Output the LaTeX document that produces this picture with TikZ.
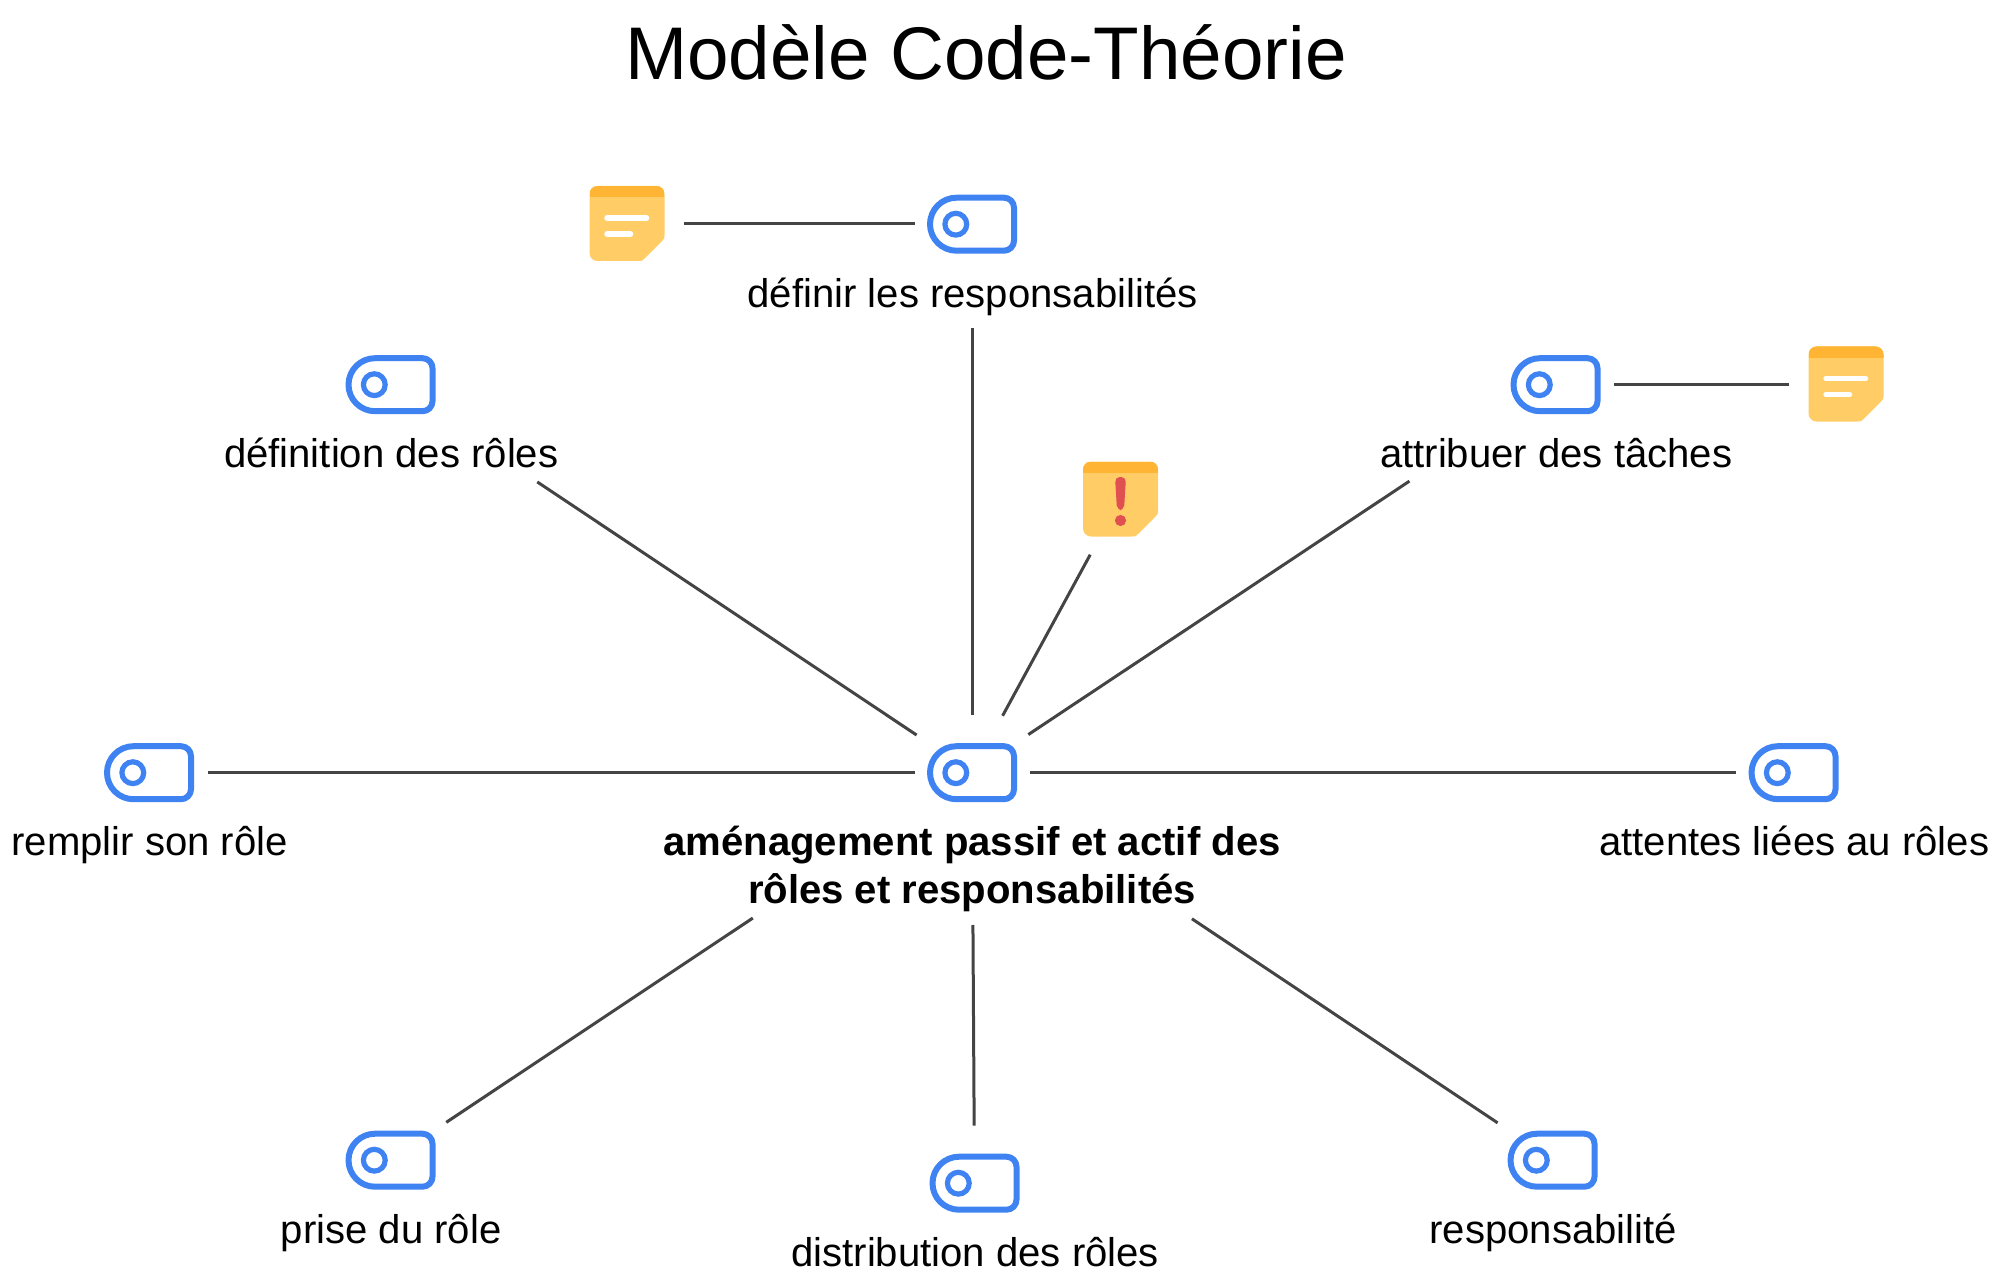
\documentclass[tikz,border=0pt]{standalone}
\usepackage{fontspec}
\setmainfont{Liberation Sans}
\definecolor{iconblue}{HTML}{3F83F3}
\definecolor{notehead}{HTML}{FFB433}
\definecolor{notebody}{HTML}{FFCC66}
\definecolor{alertred}{HTML}{E05050}
\definecolor{connline}{HTML}{444444}
\newcommand{\noteoutline}{(-29.5,-37.5) -- (29.5,-37.5) arc[start angle=90,end angle=0,radius=4pt] -- (37.5,11) .. controls (37.5,15) .. (34.5,18) -- (18,34.5) .. controls (15,37.5) .. (11,37.5) -- (-29.5,37.5) arc[start angle=-90,end angle=-180,radius=4pt] -- (-37.5,-29.5) arc[start angle=180,end angle=90,radius=4pt] -- cycle}
\tikzset{
  x=0.5pt,y=-0.5pt,
  lab/.style={anchor=base,inner sep=0pt,outer sep=0pt,font=\fontsize{20.05}{24.25}\selectfont,text=black},
  conn/.style={draw=connline,line width=1.5pt},
  tagicon/.pic={
    \begin{scope}[yshift=-0.35pt]
    \draw[iconblue,line width=3pt,line join=round]
      (-15.5,-26.5) -- (32,-26.5) arc[start angle=90,end angle=0,radius=5pt]
      -- (42,16.5) arc[start angle=0,end angle=-90,radius=5pt]
      -- (-15.5,26.5) arc[start angle=-90,end angle=-270,radius=13.25pt] -- cycle;
    \draw[iconblue,line width=2.6pt] (-16.2,0) circle[radius=5.45pt];
    \end{scope}
  },
  notebg/.pic={
    \fill[notebody] \noteoutline;
    \begin{scope}
      \clip \noteoutline;
      \fill[notehead] (-37.5,-37.5) rectangle (37.5,-26.5);
    \end{scope}
  },
  memonote/.pic={
    \pic {notebg};
    \draw[white,line width=2.75pt,line cap=round] (-20,-5.5) -- (19.5,-5.5);
    \draw[white,line width=2.75pt,line cap=round] (-20,10.5) -- (3.5,10.5);
  },
  alertnote/.pic={
    \pic {notebg};
    \fill[alertred,rounded corners=2.4pt] (-5.5,-22) -- (5.5,-22) -- (3.5,11) -- (-3.5,11) -- cycle;
    \fill[alertred] (0,21.5) circle[radius=2.8pt];
  }
}
\newcommand{\tagitem}[4]{%
  \coordinate (#1) at (#2,#3);
  \pic at (#1) {tagicon};
  \node[lab] (#1lab) at (#2+0.7,#3+83.5) {#4};
}
\begin{document}
\begin{tikzpicture}
\useasboundingbox (0,0) rectangle (2000,1283);
\node[anchor=base,inner sep=0pt,font=\fontsize{37.3}{40}\selectfont] (title) at (986,80) {Modèle Code-Théorie};

\tagitem{top}{972}{223.5}{définir les responsabilités}
\tagitem{roles}{390.5}{384}{définition des rôles}
\tagitem{taches}{1555.5}{384}{attribuer des tâches}
\tagitem{remplir}{149}{772}{remplir son rôle}
\tagitem{attentes}{1793.5}{772}{attentes liées au rôles}
\tagitem{prise}{390.5}{1159.5}{prise du rôle}
\tagitem{distrib}{974.5}{1182.5}{distribution des rôles}
\tagitem{respon}{1552.5}{1159.5}{responsabilité}

\coordinate (hub) at (972,772);
\pic at (hub) {tagicon};
\node[lab,anchor=north,align=center,font=\fontsize{20.05}{24.25}\selectfont\bfseries] (hublab) at (972,826) {aménagement passif et actif des\\rôles et responsabilités};

\coordinate (memoa) at (627,223.5);
\pic at (memoa) {memonote};
\coordinate (memob) at (1846,384);
\pic at (memob) {memonote};
\coordinate (alert) at (1120.5,499);
\pic at (alert) {alertnote};

\draw[conn,shorten <=28.7pt,shorten >=28.5pt] (memoa) -- (top);
\draw[conn,shorten <=29.3pt,shorten >=28.5pt] (taches) -- (memob);
\draw[conn,shorten <=52.3pt,shorten >=28.5pt] (top) -- (hub);
\draw[conn,shorten <=88.2pt,shorten >=33.3pt] (roles) -- (hub);
\draw[conn,shorten <=87.7pt,shorten >=33.8pt] (taches) -- (hub);
\draw[conn,shorten <=31.7pt,shorten >=32pt] (alert) -- (hub);
\draw[conn,shorten <=29.3pt,shorten >=28.5pt] (remplir) -- (hub);
\draw[conn,shorten <=28.7pt,shorten >=29pt] (attentes) -- (hub);
\draw[conn,shorten <=33.5pt,shorten >=131.7pt] (prise) -- (hub);
\draw[conn,shorten <=28.5pt,shorten >=76.5pt] (distrib) -- (hub);
\draw[conn,shorten <=33pt,shorten >=132.2pt] (respon) -- (hub);
\end{tikzpicture}
\end{document}
